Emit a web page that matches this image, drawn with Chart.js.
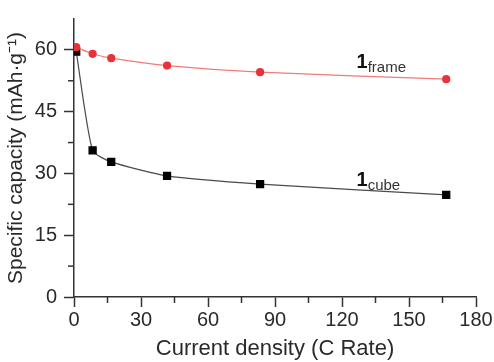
<!DOCTYPE html>
<html>
<head>
<meta charset="utf-8">
<script src="https://cdn.jsdelivr.net/npm/chart.js@4/dist/chart.umd.min.js"></script>
<style>
  html, body { margin: 0; padding: 0; background: #fff; }
  #wrap { width: 494px; height: 362px; }
</style>
</head>
<body>
<div id="wrap"><canvas id="rate-chart" width="494" height="362"></canvas></div>
<script>
// --- dados ---
const cRates = [1, 8.33, 16.67, 41.67, 83.33, 166.67];
const frameCapacity = [60.65, 59.05, 58.0, 56.2, 54.6, 52.9];
const cubeCapacity = [59.6, 35.6, 32.8, 29.4, 27.4, 24.8];
const xTicks = [0, 30, 60, 90, 120, 150, 180];
const yTicks = [0, 15, 30, 45, 60];
// rótulos das curvas: [texto principal, subscrito, x, y]
const seriesLabels = [
    ['1', 'frame', 126.5, 55.6],
    ['1', 'cube', 126.5, 27.0]
];

const axisColor = '#333333';
const textColor = '#2a2a2a';
const fontFamily = '"Liberation Sans", Arial, sans-serif';

function toPoints(xs, ys) {
    return xs.map((x, i) => ({ x: x, y: ys[i] }));
}

// Ticks menores (mais curtos) desenhados à mão; os maiores ficam com o Chart.js
const minorTicks = {
    id: 'minorTicks',
    afterDraw(chart) {
        const ctx = chart.ctx;
        const { x, y } = chart.scales;
        ctx.save();
        ctx.strokeStyle = axisColor;
        ctx.lineWidth = 1.5;
        x.ticks.forEach(t => {
            if (xTicks.includes(t.value)) return;
            const px = x.getPixelForValue(t.value);
            ctx.beginPath();
            ctx.moveTo(px, x.top);
            ctx.lineTo(px, x.top + 6);
            ctx.stroke();
        });
        y.ticks.forEach(t => {
            if (yTicks.includes(t.value) || t.value >= y.max) return;
            const py = y.getPixelForValue(t.value);
            ctx.beginPath();
            ctx.moveTo(y.right, py);
            ctx.lineTo(y.right - 6, py);
            ctx.stroke();
        });
        ctx.restore();
    }
};

// Rótulo "1" em negrito com subscrito ao lado de cada curva
const curveLabels = {
    id: 'curveLabels',
    afterDatasetsDraw(chart) {
        const ctx = chart.ctx;
        const { x, y } = chart.scales;
        ctx.save();
        ctx.textBaseline = 'alphabetic';
        ctx.textAlign = 'left';
        seriesLabels.forEach(([main, sub, vx, vy]) => {
            const px = x.getPixelForValue(vx);
            const py = y.getPixelForValue(vy);
            ctx.fillStyle = '#111';
            ctx.font = 'bold 20px ' + fontFamily;
            ctx.fillText(main, px, py);
            const w = ctx.measureText(main).width;
            ctx.fillStyle = '#333';
            ctx.font = '15px ' + fontFamily;
            ctx.fillText(sub, px + w, py + 4);
        });
        ctx.restore();
    }
};

const isMajor = (list) => (c) => list.includes(c.tick.value) ? axisColor : 'rgba(0,0,0,0)';

new Chart(document.getElementById('rate-chart'), {
    type: 'line',
    data: {
        datasets: [
            {
                label: '1frame',
                data: toPoints(cRates, frameCapacity),
                borderColor: '#f27a7a',
                borderWidth: 1.2,
                backgroundColor: '#e8333b',
                pointBackgroundColor: '#e8333b',
                pointBorderColor: '#e8333b',
                pointStyle: 'circle',
                pointRadius: 3.5,
                tension: 0.2
            },
            {
                label: '1cube',
                data: toPoints(cRates, cubeCapacity),
                borderColor: '#4a4a4a',
                borderWidth: 1.2,
                backgroundColor: '#000',
                pointBackgroundColor: '#000',
                pointBorderColor: '#000',
                pointStyle: 'rect',
                pointRadius: 5,
                tension: 0.2
            }
        ]
    },
    options: {
        responsive: false,
        animation: false,
        layout: { padding: { top: 15, right: 18, left: 0, bottom: 0 } },
        plugins: {
            legend: { display: false },
            tooltip: { enabled: false }
        },
        scales: {
            x: {
                type: 'linear',
                min: 0,
                max: 180,
                border: { display: true, color: axisColor, width: 1.5 },
                grid: { drawOnChartArea: false, tickLength: 10, tickWidth: 1.5, tickColor: isMajor(xTicks) },
                ticks: {
                    stepSize: 15,
                    autoSkip: false,
                    maxRotation: 0,
                    padding: 1,
                    color: textColor,
                    font: { family: fontFamily, size: 20 },
                    callback: v => xTicks.includes(v) ? String(v) : ''
                },
                title: {
                    display: true,
                    text: 'Current density (C Rate)',
                    color: textColor,
                    font: { family: fontFamily, size: 22 },
                    padding: { top: 0, bottom: 0 }
                },
                afterFit: s => { s.height = 65; }
            },
            y: {
                min: 0,
                max: 67.5,
                border: { display: true, color: axisColor, width: 1.5 },
                grid: { drawOnChartArea: false, tickLength: 10, tickWidth: 1.5, tickColor: isMajor(yTicks) },
                ticks: {
                    stepSize: 7.5,
                    autoSkip: false,
                    padding: 7,
                    color: textColor,
                    font: { family: fontFamily, size: 20 },
                    callback: v => yTicks.includes(v) ? String(v) : ''
                },
                title: {
                    display: true,
                    text: 'Specific capacity (mAh·g⁻¹)',
                    color: textColor,
                    font: { family: fontFamily, size: 21 },
                    padding: { top: 4, bottom: 0 }
                },
                afterFit: s => { s.width = 74; }
            }
        }
    },
    plugins: [minorTicks, curveLabels]
});
</script>
</body>
</html>
